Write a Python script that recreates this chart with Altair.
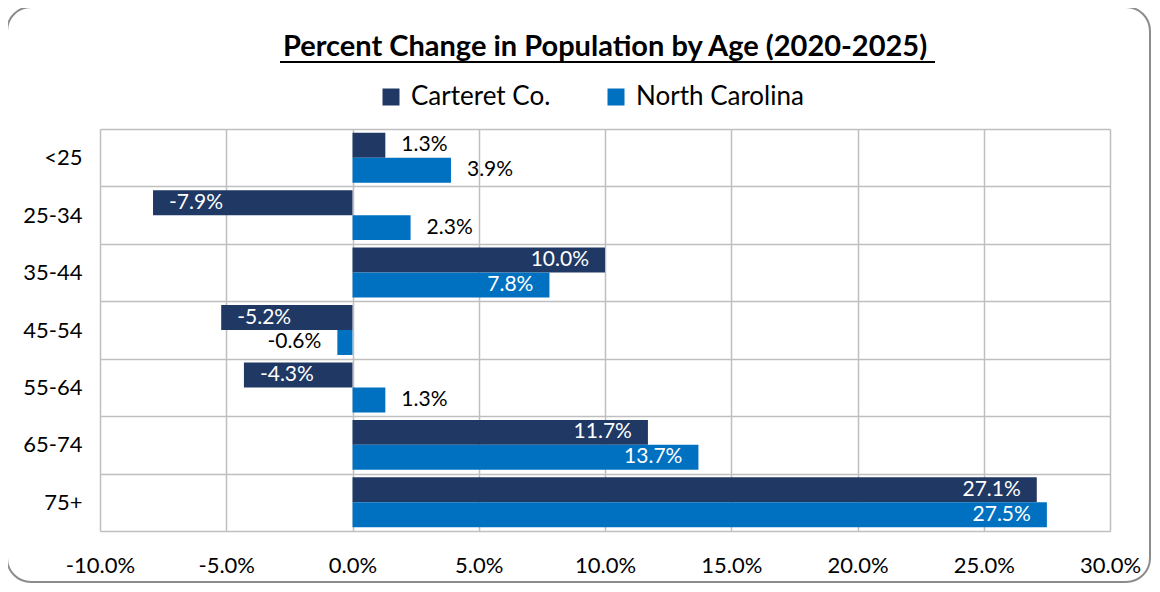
import altair as alt
import pandas as pd

ages = ["<25", "25-34", "35-44", "45-54", "55-64", "65-74", "75+"]
carteret = [1.3, -7.9, 10.0, -5.2, -4.3, 11.7, 27.1]
north_carolina = [3.9, 2.3, 7.8, -0.6, 1.3, 13.7, 27.5]
series = ["Carteret Co.", "North Carolina"]
colors = ["#203864", "#0070C0"]
x_ticks = [-10, -5, 0, 5, 10, 15, 20, 25, 30]
title_text = "Percent Change in Population by Age (2020-2025)"

rows = []
for i, a in enumerate(ages):
    rows.append({"age": a, "series": series[0], "value": carteret[i]})
    rows.append({"age": a, "series": series[1], "value": north_carolina[i]})
df = pd.DataFrame(rows)

FONT = "Lato"
W, H = 1010, 402
GRID = "#BFBFBF"
PCT = "(datum.value < 0 ? '-' : '') + format(abs(datum.value), '.1f') + '%'"

x = alt.X(
    "value:Q",
    scale=alt.Scale(domain=[-10, 30], nice=False, zero=False),
    axis=alt.Axis(
        values=x_ticks,
        labelExpr=PCT,
        grid=True, gridColor=GRID, gridWidth=1.5,
        domain=False, ticks=False, labelFlush=False,
        labelFontSize=22, labelFont=FONT, labelColor="black",
        labelPadding=24, title=None,
    ),
)
y = alt.Y(
    "age:N",
    sort=ages,
    scale=alt.Scale(paddingInner=0, paddingOuter=0),
    axis=alt.Axis(
        title=None, domain=False, ticks=False,
        grid=True, gridColor=GRID, gridWidth=1.5, tickBand="extent",
        labelFontSize=22, labelFont=FONT, labelColor="black", labelPadding=18,
    ),
)
yoff = alt.YOffset("series:N", sort=series,
                   scale=alt.Scale(paddingInner=0, paddingOuter=0.15))
color = alt.Color(
    "series:N", sort=series,
    scale=alt.Scale(domain=series, range=colors),
    legend=alt.Legend(
        orient="none", legendX=278, legendY=-45, direction="horizontal",
        title=None, symbolType="square", symbolSize=289, symbolStrokeWidth=0,
        labelFontSize=26, labelFont=FONT, labelColor="black", labelLimit=0,
        columnPadding=52, labelOffset=7,
    ),
)

base = alt.Chart(df)

frame = alt.Chart(pd.DataFrame({"k": [0]})).mark_rect(
    fill="white", fillOpacity=0, stroke="#8C8C8C", strokeWidth=2, cornerRadius=24
).encode(
    x=alt.value(-93), x2=alt.value(1050),
    y=alt.value(-122), y2=alt.value(453),
)

bars = base.mark_bar().encode(
    x=x, x2=alt.datum(0), y=y, yOffset=yoff, color=color
)

inside = "abs(datum.value) >= 4"
txt_color = alt.condition(inside, alt.value("white"), alt.value("black"))
labels_right = base.transform_filter(
    "(datum.value > 0 && abs(datum.value) >= 4) || (datum.value < 0 && abs(datum.value) < 4)"
).transform_calculate(
    lab=PCT
).mark_text(align="right", baseline="middle", dx=-16, fontSize=21, font=FONT).encode(
    x="value:Q", y=alt.Y("age:N", sort=ages), yOffset=alt.YOffset("series:N", sort=series),
    text="lab:N", color=txt_color,
)
labels_left = base.transform_filter(
    "(datum.value > 0 && abs(datum.value) < 4) || (datum.value < 0 && abs(datum.value) >= 4)"
).transform_calculate(
    lab=PCT
).mark_text(align="left", baseline="middle", dx=16, fontSize=21, font=FONT).encode(
    x="value:Q", y=alt.Y("age:N", sort=ages), yOffset=alt.YOffset("series:N", sort=series),
    text="lab:N", color=txt_color,
)

underline = alt.Chart(pd.DataFrame({"k": [0]})).mark_rule(
    color="black", strokeWidth=2
).encode(
    x=alt.value(180), x2=alt.value(835), y=alt.value(-67)
)

chart = alt.layer(frame, bars, labels_right, labels_left, underline).properties(
    width=W, height=H,
    title=alt.TitleParams(
        title_text, font=FONT, fontSize=29, fontWeight="bold", color="black",
        anchor="middle", frame="group", baseline="alphabetic", offset=-79,
    ),
    autosize=alt.AutoSizeParams(type="none"),
    padding={"left": 92, "top": 121, "right": 42, "bottom": 53},
).configure_view(
    fill="#EBEBEB", stroke=GRID, strokeWidth=1.5
).configure(background="white")

chart.save("out.html", embed_options={"renderer": "svg", "actions": False})
